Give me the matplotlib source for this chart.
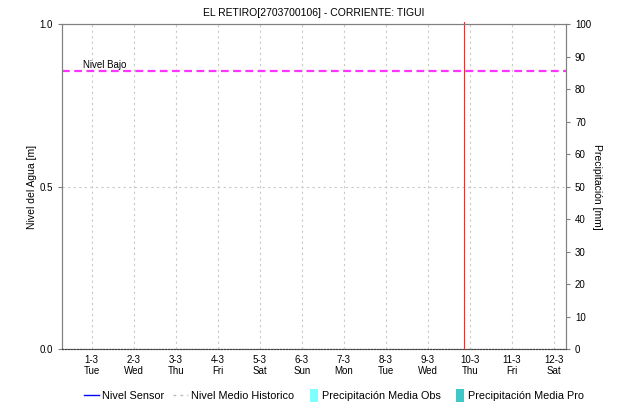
import numpy as np
import matplotlib.pyplot as plt
from datetime import datetime
from matplotlib.lines import Line2D
from matplotlib.patches import Patch, Rectangle
from matplotlib.legend_handler import HandlerPatch

# datos
dias = [datetime(2022, 3, d) for d in range(1, 13)]
etiquetas = ['1-3\nTue', '2-3\nWed', '3-3\nThu', '4-3\nFri', '5-3\nSat', '6-3\nSun',
             '7-3\nMon', '8-3\nTue', '9-3\nWed', '10-3\nThu', '11-3\nFri', '12-3\nSat']
nivel_sensor = []
nivel_historico = [0.0] * 12
precip_obs = [0.0] * 12
precip_pro = [0.0] * 12
nivel_bajo = 0.855
ahora = datetime(2022, 3, 9, 21, 0)

plt.rcParams['font.family'] = ['Liberation Sans', 'DejaVu Sans']
plt.rcParams['font.size'] = 7

fig = plt.figure(figsize=(6.18, 4.04), dpi=100)
ax = fig.add_axes([0.1003, 0.136, 0.8155, 0.8046])
ax2 = ax.twinx()

t0 = datetime(2022, 2, 28, 7, 0)
t1 = datetime(2022, 3, 12, 7, 0)

ax2.bar(dias, precip_obs, width=0.4, color='#80ffff')
ax2.bar(dias, precip_pro, width=0.4, color='#40c8c8')
ax2.set_ylim(0, 100)
ax2.set_yticks(range(0, 101, 10))
ax2.set_ylabel('Precipitación [mm]', rotation=270, labelpad=8, fontsize=7.5)

ax.plot([t0] + dias + [t1], [0.0] + nivel_historico + [0.0], color='#999999', linestyle=':', lw=1, zorder=3)
ax.plot(dias[:len(nivel_sensor)], nivel_sensor, color='blue', lw=1)
ax.axhline(nivel_bajo, color='#ff33ff', linestyle=(0, (3.5, 2)), lw=1.6)
ax.text(datetime(2022, 2, 28, 19, 0), nivel_bajo + 0.005, 'Nivel Bajo', fontsize=7, va='bottom')
ax.axvline(ahora, ymax=1.006, color='#d83838', lw=0.8, clip_on=False)
ax.set_zorder(ax2.get_zorder() + 1)
ax.patch.set_visible(False)

ax.set_xlim(t0, t1)
ax.set_ylim(0, 1)
ax.set_yticks([0.0, 0.5, 1.0])
ax.set_yticklabels(['0.0', '0.5', '1.0'])
ax.set_xticks(dias)
ax.set_xticklabels(etiquetas)
ax.set_ylabel('Nivel del Agua [m]', labelpad=2, fontsize=7.5)
ax.grid(True, color='#c8c8c8', linestyle=(0, (2, 3)), lw=0.8)
ax.tick_params(axis='x', length=0, pad=4)
ax.tick_params(axis='y', length=3, color='#808080')
ax2.tick_params(axis='y', length=3, color='#808080')
for a in (ax, ax2):
    for s in a.spines.values():
        s.set_color('#808080')
ax.spines['bottom'].set_color('#404040')
ax.spines['bottom'].set_linestyle(':')

ax.set_title('EL RETIRO[2703700106] - CORRIENTE: TIGUI', fontsize=7.5, pad=6)


def barra_estrecha(legend, orig_handle, xdescent, ydescent, width, height, fontsize):
    return Rectangle((width - 6 - xdescent, -ydescent - 2), 6, height + 4)


handles = [Line2D([], [], color='blue', lw=1),
           Line2D([], [], color='#bbbbbb', linestyle=(0, (2, 3)), lw=1),
           Patch(facecolor='#80ffff'),
           Patch(facecolor='#40c8c8')]
labels = ['Nivel Sensor', 'Nivel Medio Historico', 'Precipitación Media Obs', 'Precipitación Media Pro']
fig.legend(handles, labels, loc='center', ncol=4, frameon=False, fontsize=7.8,
           bbox_to_anchor=(0.54, 0.02), handlelength=1.4, handletextpad=0.3, columnspacing=0.8,
           handler_map={Patch: HandlerPatch(patch_func=barra_estrecha)})

fig.savefig('out.png', dpi=100)
